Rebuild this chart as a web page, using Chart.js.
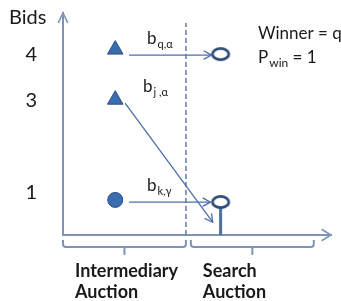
<!DOCTYPE html>
<html>
<head>
<meta charset="utf-8">
<script src="https://cdn.jsdelivr.net/npm/chart.js@4.4.1/dist/chart.umd.min.js"></script>
<style>
  html, body { margin: 0; padding: 0; background: #fff; }
</style>
</head>
<body>
<canvas id="myChart" width="341" height="301"></canvas>
<script>
// bids placed in the intermediary auction
const bidSubs = ['q,\u03b1', 'j ,\u03b1', 'k,\u03b3'];
const bidValues = [4, 3, 1];
const bidShapes = ['triangle', 'triangle', 'circle'];
const bidX = [0.425, 0.425, 0.425];

// arrows from each bid into the search auction
const arrowFromX = [0.537, 0.505, 0.537];
const arrowFromY = [3.89, 2.93, 0.956];
const arrowToX = [1.208, 1.218, 1.2];
const arrowToY = [3.89, 0.555, 0.956];

// resulting bids in the search auction
const searchX = [1.282, 1.282];
const searchY = [3.91, 0.958];

const bidTicks = [4, 3, 1];
const sectionLabels = [['Intermediary', 'Auction'], ['Search', 'Auction']];
const sectionStart = [0, 1.04];
const sectionEnd = [1, 2.04];
const divider = 1.0;

const axisColor = '#8093b6';
const arrowColor = '#4a6fa8';
const textColor = '#1a1a1a';

// open ellipse used for the search auction bids
const ring = document.createElement('canvas');
ring.width = 24;
ring.height = 18;
const rc = ring.getContext('2d');
rc.lineWidth = 2.8;
rc.strokeStyle = '#2d4b78';
rc.fillStyle = '#fff';
rc.beginPath();
rc.ellipse(12, 9, 8.2, 5.6, 0, 0, Math.PI * 2);
rc.fill();
rc.stroke();

function arrowHead(ctx, x0, y0, x1, y1, len, spread) {
  const a = Math.atan2(y1 - y0, x1 - x0);
  ctx.beginPath();
  ctx.moveTo(x1 - len * Math.cos(a - spread), y1 - len * Math.sin(a - spread));
  ctx.lineTo(x1, y1);
  ctx.lineTo(x1 - len * Math.cos(a + spread), y1 - len * Math.sin(a + spread));
  ctx.stroke();
}

function subText(ctx, x, y, main, sub, size, subSize, rest) {
  ctx.font = size + 'px Lato';
  ctx.fillText(main, x, y);
  let w = ctx.measureText(main).width;
  ctx.font = subSize + 'px Lato';
  ctx.fillText(sub, x + w + 1, y + 4);
  w += ctx.measureText(sub).width + 1;
  if (rest) {
    ctx.font = size + 'px Lato';
    ctx.fillText(rest, x + w, y);
  }
}

// keep the plot area where the picture has it, no extra room for labels
function fixSize(prop, size) {
  return s => {
    s[prop] = size;
    s.paddingTop = s.paddingBottom = s.paddingLeft = s.paddingRight = 0;
  };
}

const decorations = {
  id: 'decorations',
  afterDraw(chart) {
    const ctx = chart.ctx;
    const xs = chart.scales.x, ys = chart.scales.y;
    const area = chart.chartArea;
    ctx.save();

    // axis arrow heads
    ctx.strokeStyle = axisColor;
    ctx.lineWidth = 1.6;
    arrowHead(ctx, area.left, area.bottom, area.left, area.top, 11, 0.45);
    arrowHead(ctx, area.left, area.bottom, area.right, area.bottom, 11, 0.55);

    // braces under the x axis
    ctx.lineWidth = 2;
    sectionStart.forEach((s, i) => {
      const x0 = xs.getPixelForValue(s), x1 = xs.getPixelForValue(sectionEnd[i]);
      const top = area.bottom + 5, mid = area.bottom + 12, r = 3;
      const cx = (x0 + x1) / 2;
      ctx.beginPath();
      ctx.moveTo(x0, top);
      ctx.lineTo(x0, mid - r);
      ctx.quadraticCurveTo(x0, mid, x0 + r, mid);
      ctx.lineTo(x1 - r, mid);
      ctx.quadraticCurveTo(x1, mid, x1, mid - r);
      ctx.lineTo(x1, top);
      ctx.moveTo(cx, mid);
      ctx.lineTo(cx, mid + 8);
      ctx.stroke();
    });

    // arrow heads for the bid arrows
    ctx.strokeStyle = arrowColor;
    ctx.lineWidth = 1.3;
    arrowFromX.forEach((fx, i) => {
      arrowHead(ctx,
        xs.getPixelForValue(fx), ys.getPixelForValue(arrowFromY[i]),
        xs.getPixelForValue(arrowToX[i]), ys.getPixelForValue(arrowToY[i]), 9, 0.5);
    });

    // text
    ctx.fillStyle = textColor;
    ctx.textBaseline = 'alphabetic';
    ctx.textAlign = 'left';
    ctx.font = '20px Lato';
    ctx.fillText('Bids', 9, 24);

    arrowFromX.forEach((fx, i) => {
      const px = xs.getPixelForValue(fx) + 18;
      const py = ys.getPixelForValue(arrowFromY[i]) - 11;
      subText(ctx, px, py, 'b', bidSubs[i], 17, 11);
    });

    ctx.font = '17px Lato';
    ctx.fillText('Winner = q', 258, 39);
    subText(ctx, 258, 63, 'P', 'win', 17, 12, ' = 1');

    ctx.restore();
  }
};

const bidData = bidValues.map((v, i) => ({ x: bidX[i], y: v }));
const arrowSets = arrowFromX.map((fx, i) => ({
  type: 'line',
  data: [{ x: fx, y: arrowFromY[i] }, { x: arrowToX[i], y: arrowToY[i] }],
  borderColor: arrowColor,
  borderWidth: 1.3,
  pointRadius: 0,
  order: 3
}));

const ctx = document.getElementById('myChart').getContext('2d');
const myChart = new Chart(ctx, {
  type: 'scatter',
  data: {
    datasets: [
      {
        data: bidData,
        pointStyle: bidShapes,
        pointRadius: bidShapes.map(s => s === 'triangle' ? 9 : 7.5),
        backgroundColor: '#3a6cb0',
        borderColor: '#2a4f86',
        borderWidth: 1,
        order: 1
      },
      {
        data: searchX.map((x, i) => ({ x: x, y: searchY[i] })),
        pointStyle: ring,
        order: 1
      },
      // stem under the lower search auction bid
      {
        type: 'line',
        data: [{ x: searchX[1], y: searchY[1] }, { x: searchX[1], y: 0.3 }],
        borderColor: '#4f6f9f',
        borderWidth: 3,
        pointRadius: 0,
        order: 2
      },
      // dashed divider between the two auctions
      {
        type: 'line',
        data: [{ x: divider, y: 0.3 }, { x: divider, y: 4.53 }],
        borderColor: '#5d7aa3',
        borderWidth: 1.5,
        borderDash: [5, 3],
        pointRadius: 0,
        clip: false,
        order: 4
      },
      ...arrowSets
    ]
  },
  options: {
    responsive: false,
    animation: false,
    devicePixelRatio: 1,
    layout: { padding: { top: 13, right: 6, left: 0, bottom: 0 } },
    plugins: { legend: { display: false }, tooltip: { enabled: false } },
    scales: {
      x: {
        type: 'linear',
        min: 0,
        max: 2.18,
        afterFit: fixSize('height', 66),
        afterBuildTicks: s => { s.ticks = sectionStart.map(v => ({ value: v })); },
        grid: { display: false, drawTicks: false },
        border: { color: axisColor, width: 2 },
        ticks: {
          autoSkip: false,
          maxRotation: 0,
          align: 'start',
          labelOffset: 12,
          padding: 25,
          color: textColor,
          font: { family: 'Lato', size: 18, weight: 'bold', lineHeight: 1.2 },
          callback: (v, i) => sectionLabels[i]
        }
      },
      // scale the marks are plotted on
      y: {
        type: 'linear',
        display: false,
        min: 0.3,
        max: 4.73
      },
      // bid axis with its labels (hand-placed in the original, set a little apart)
      yBids: {
        type: 'linear',
        position: 'left',
        min: 0.07,
        max: 4.9,
        afterFit: fixSize('width', 63),
        afterBuildTicks: s => { s.ticks = bidTicks.map(v => ({ value: v })); },
        grid: { display: false, drawTicks: false },
        border: { color: axisColor, width: 2 },
        ticks: {
          padding: 26,
          color: textColor,
          font: { family: 'Lato', size: 20 }
        }
      }
    }
  },
  plugins: [decorations]
});
</script>
</body>
</html>
